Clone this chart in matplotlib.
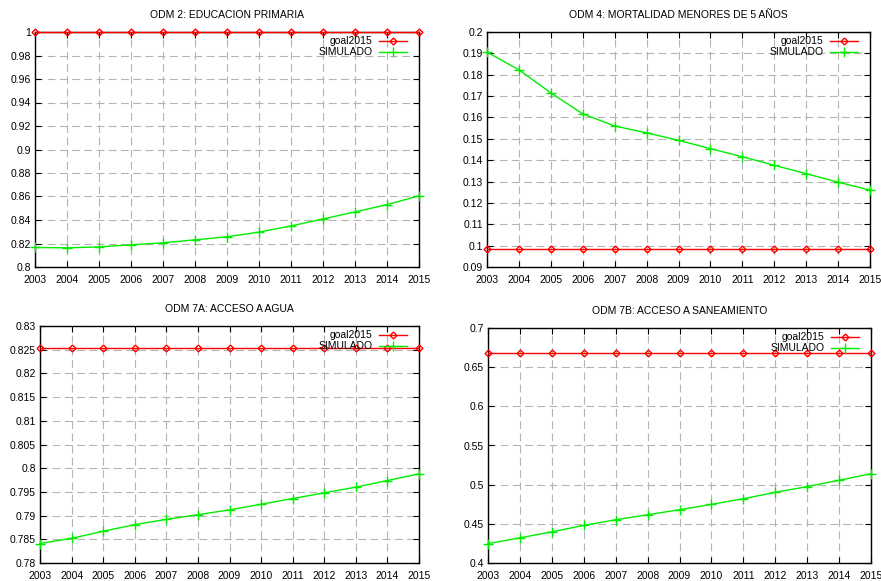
import matplotlib
matplotlib.use("Agg")
import matplotlib.pyplot as plt

plt.rcParams['font.family'] = ['Liberation Sans', 'DejaVu Sans']

years = list(range(2003, 2016))

# ODM 2
edu_goal = [1.0] * 13
edu_sim = [0.8166, 0.8163, 0.8171, 0.8189, 0.8206, 0.8231, 0.8257,
           0.8297, 0.8349, 0.8409, 0.8469, 0.8531, 0.8606]

# ODM 4
mort_goal = [0.0985] * 13
mort_sim = [0.1906, 0.1823, 0.1715, 0.1617, 0.1560, 0.1528, 0.1493,
            0.1454, 0.1416, 0.1376, 0.1337, 0.1297, 0.1260]

# ODM 7A
agua_goal = [0.8254] * 13
agua_sim = [0.7841, 0.7852, 0.7867, 0.7881, 0.7892, 0.7902, 0.7912,
            0.7924, 0.7936, 0.7948, 0.7960, 0.7974, 0.7988]

# ODM 7B
san_goal = [0.6685] * 13
san_sim = [0.4248, 0.4321, 0.4398, 0.4480, 0.4552, 0.4616, 0.4680,
           0.4748, 0.4821, 0.4902, 0.4975, 0.5056, 0.5140]

titles = ["ODM 2: EDUCACION PRIMARIA", "ODM 4: MORTALIDAD MENORES DE 5 AÑOS",
          "ODM 7A: ACCESO A AGUA", "ODM 7B: ACCESO A SANEAMIENTO"]

W, H = 881, 581
fig = plt.figure(figsize=(W / 100, H / 100), dpi=100)

# axes boxes in pixels: left, top, right, bottom
boxes = [(35, 32, 419, 267), (487, 32, 870, 267),
         (40, 326, 419, 563), (488, 328, 871, 563)]
ylims = [(0.8, 1.0), (0.09, 0.2), (0.78, 0.83), (0.4, 0.7)]
ysteps = [0.02, 0.01, 0.005, 0.05]
goals = [edu_goal, mort_goal, agua_goal, san_goal]
sims = [edu_sim, mort_sim, agua_sim, san_sim]


def fmt(v):
    s = ("%.3f" % v).rstrip('0').rstrip('.')
    return s


for i in range(4):
    l, t, r, b = boxes[i]
    ax = fig.add_axes([l / W, 1 - b / H, (r - l) / W, (b - t) / H])
    lo, hi = ylims[i]
    n = int(round((hi - lo) / ysteps[i]))
    yt = [lo + k * ysteps[i] for k in range(n + 1)]
    ax.set_ylim(lo, hi)
    ax.set_xlim(2003, 2015)
    ax.set_yticks(yt)
    ax.set_yticklabels([fmt(v) for v in yt])
    ax.set_xticks(years)
    ax.set_xticklabels([str(y) for y in years])
    ax.grid(True, color='#b4b4b4', linestyle=(0, (7, 4)), linewidth=0.8)
    ax.set_axisbelow(True)
    ax.tick_params(direction='in', length=4, width=0.8, labelsize=7.5,
                   top=True, right=True, pad=3, colors='black')
    ax.tick_params(axis='x', pad=6)
    for sp in ax.spines.values():
        sp.set_linewidth(1.0)
    ax.plot(years, goals[i], color='#ff0000', linewidth=1.0, marker='D',
            markersize=3.5, fillstyle='none', markeredgewidth=1.0,
            label='goal2015', clip_on=False, zorder=3)
    ax.plot(years, sims[i], color='#00ee00', linewidth=1.0, marker='+',
            markersize=6.5, markeredgewidth=1.0, label='SIMULADO',
            clip_on=False, zorder=3)
    ax.legend(loc='upper right', bbox_to_anchor=(1 - 8 / (r - l), 1),
              frameon=False, markerfirst=False,
              fontsize=7.5, handlelength=2.7, handletextpad=0.6,
              borderaxespad=0.0, labelspacing=0.1)
    fig.text((l + r) / 2 / W, 1 - (t - 17) / H, titles[i], ha='center',
             va='center', fontsize=7.5)

fig.savefig("out.png", dpi=100)
